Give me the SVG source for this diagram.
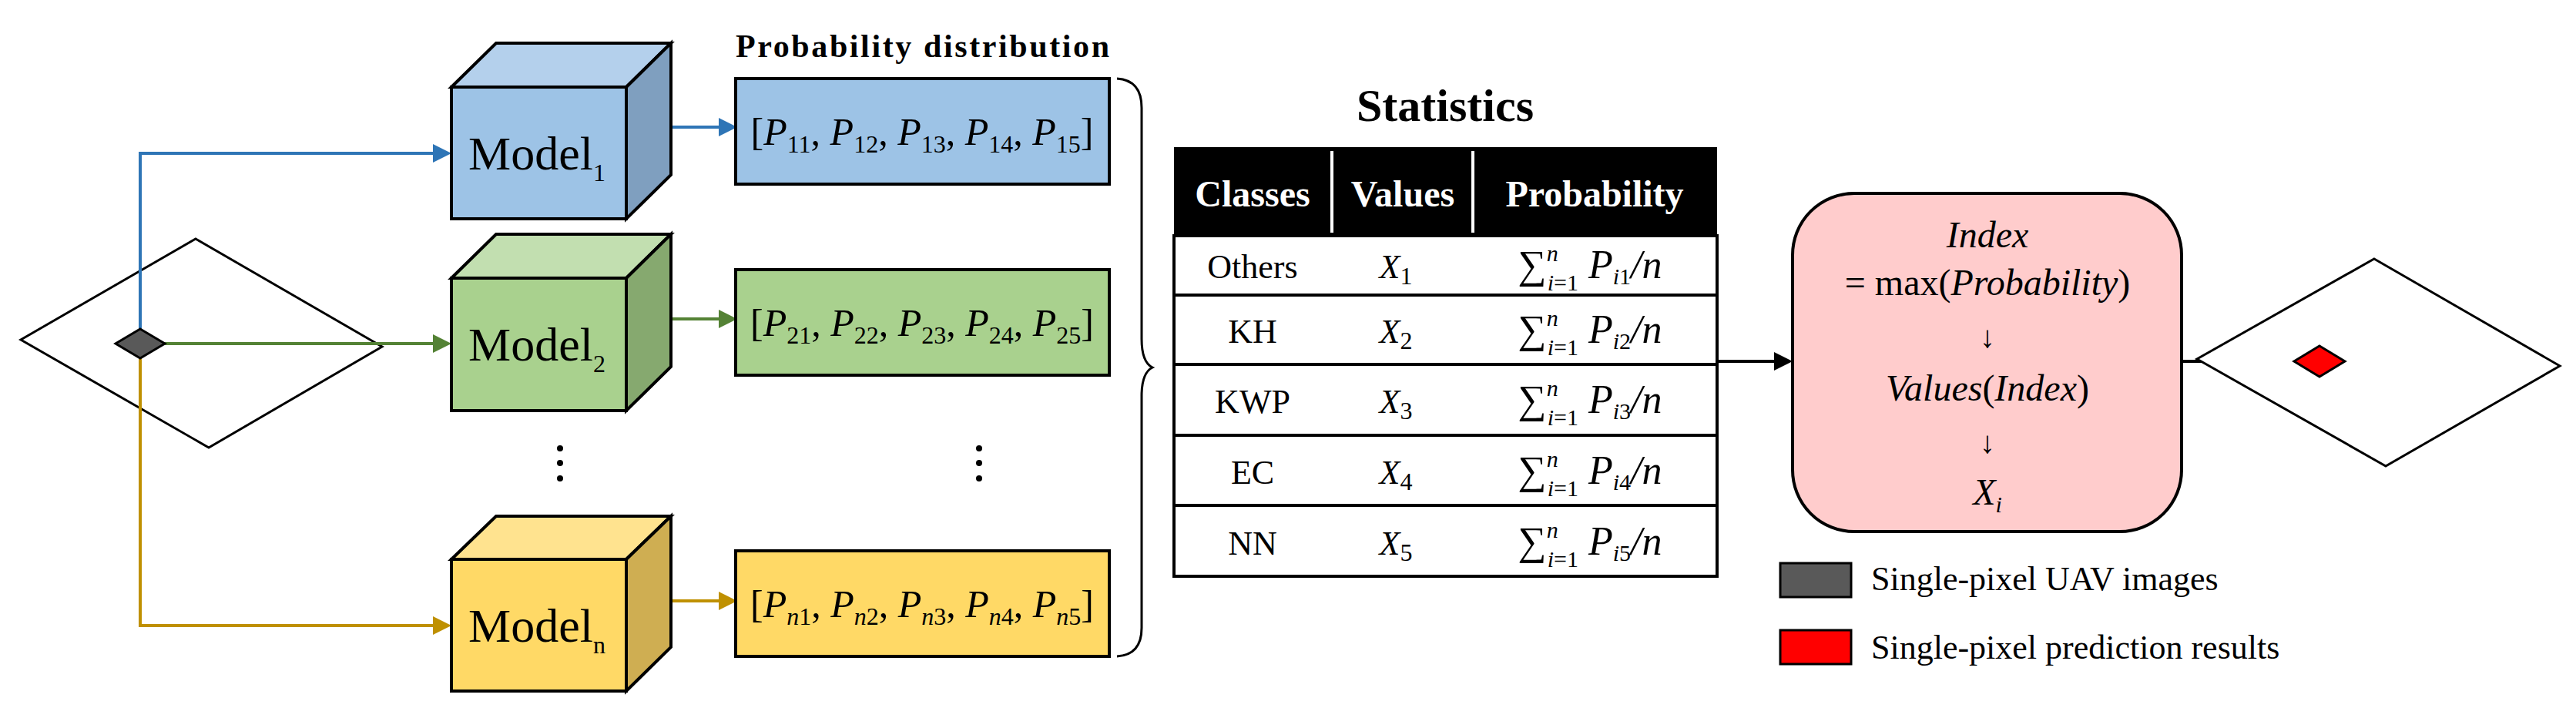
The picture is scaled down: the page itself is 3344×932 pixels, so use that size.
<svg xmlns="http://www.w3.org/2000/svg" width="3344" height="932" viewBox="0 0 3344 932">
<style>
text{font-family:"Liberation Serif","Times New Roman",serif;fill:#000}
.m{font-size:62px}
.p{font-size:50px}
.it{font-style:italic}
.sb{font-size:32px}
.t{font-size:44px}
.h{font-size:48px;font-weight:bold;fill:#fff}
.ln{fill:none;stroke-width:4}
.ed{stroke:#000;stroke-width:4}
</style>
<defs>
<marker id="ab" markerWidth="6" markerHeight="6" refX="5" refY="3" orient="auto" markerUnits="strokeWidth"><path d="M0,0L6,3L0,6z" fill="#2e75b6"/></marker>
<marker id="ag" markerWidth="6" markerHeight="6" refX="5" refY="3" orient="auto" markerUnits="strokeWidth"><path d="M0,0L6,3L0,6z" fill="#548235"/></marker>
<marker id="ay" markerWidth="6" markerHeight="6" refX="5" refY="3" orient="auto" markerUnits="strokeWidth"><path d="M0,0L6,3L0,6z" fill="#bf9000"/></marker>
<marker id="ak" markerWidth="6" markerHeight="6" refX="5" refY="3" orient="auto" markerUnits="strokeWidth"><path d="M0,0L6,3L0,6z" fill="#000"/></marker>
</defs>
<g id="input">
<polygon points="254,310 496,450 271,581 27,441" fill="#fff" stroke="#000" stroke-width="3"/>
</g>
<g id="connectors">
<path class="ln" stroke="#2e75b6" d="M182,440V199H582" marker-end="url(#ab)"/>
<path class="ln" stroke="#548235" d="M182,446H582" marker-end="url(#ag)"/>
<path class="ln" stroke="#bf9000" d="M182,452V812H582" marker-end="url(#ay)"/>
<path class="ln" stroke="#2e75b6" d="M842,165H953" marker-end="url(#ab)"/>
<path class="ln" stroke="#548235" d="M842,414H953" marker-end="url(#ag)"/>
<path class="ln" stroke="#bf9000" d="M842,780H953" marker-end="url(#ay)"/>
<path class="ln" stroke="#000" d="M2229,469H2323" marker-end="url(#ak)"/>
<path class="ln" stroke="#000" d="M2832,469H2986" marker-end="url(#ak)"/>
</g>
<g id="pixel">
<polygon points="182,427 214,446 182,465 150,446" fill="#595959" stroke="#000" stroke-width="3"/>
</g>
<g id="model1">
<polygon points="586,113 644,56 871,56 813,113" fill="#b4d0ec" class="ed"/>
<polygon points="813,113 871,56 871,227 813,284" fill="#7f9fbf" class="ed"/>
<rect x="586" y="113" width="227" height="171" fill="#9dc3e6" class="ed"/>
<text x="608" y="220" class="m">Model<tspan class="sb" dy="15">1</tspan></text>
</g>
<g id="model2">
<polygon points="586,361 644,304 871,304 813,361" fill="#c2dfb0" class="ed"/>
<polygon points="813,361 871,304 871,476 813,533" fill="#86a96f" class="ed"/>
<rect x="586" y="361" width="227" height="172" fill="#a9d18e" class="ed"/>
<text x="608" y="468" class="m">Model<tspan class="sb" dy="15">2</tspan></text>
</g>
<g id="modeln">
<polygon points="586,726 644,670 871,670 813,726" fill="#ffe38f" class="ed"/>
<polygon points="813,726 871,670 871,840 813,897" fill="#cfae52" class="ed"/>
<rect x="586" y="726" width="227" height="171" fill="#ffd966" class="ed"/>
<text x="608" y="833" class="m">Model<tspan class="sb" dy="15">n</tspan></text>
</g>
<text x="955" y="74" font-size="42" font-weight="bold" textLength="485">Probability distribution</text>
<g id="prob1">
<rect x="955" y="102" width="485" height="137" fill="#9dc3e6" class="ed"/>
<text x="1197" y="188" class="p" text-anchor="middle">[<tspan class="it">P</tspan><tspan class="sb" dy="10">11</tspan><tspan dy="-10">, </tspan><tspan class="it">P</tspan><tspan class="sb" dy="10">12</tspan><tspan dy="-10">, </tspan><tspan class="it">P</tspan><tspan class="sb" dy="10">13</tspan><tspan dy="-10">, </tspan><tspan class="it">P</tspan><tspan class="sb" dy="10">14</tspan><tspan dy="-10">, </tspan><tspan class="it">P</tspan><tspan class="sb" dy="10">15</tspan><tspan dy="-10">]</tspan></text>
</g>
<g id="prob2">
<rect x="955" y="350" width="485" height="137" fill="#a9d18e" class="ed"/>
<text x="1197" y="436" class="p" text-anchor="middle">[<tspan class="it">P</tspan><tspan class="sb" dy="10">21</tspan><tspan dy="-10">, </tspan><tspan class="it">P</tspan><tspan class="sb" dy="10">22</tspan><tspan dy="-10">, </tspan><tspan class="it">P</tspan><tspan class="sb" dy="10">23</tspan><tspan dy="-10">, </tspan><tspan class="it">P</tspan><tspan class="sb" dy="10">24</tspan><tspan dy="-10">, </tspan><tspan class="it">P</tspan><tspan class="sb" dy="10">25</tspan><tspan dy="-10">]</tspan></text>
</g>
<g id="probn">
<rect x="955" y="715" width="485" height="137" fill="#ffd966" class="ed"/>
<text x="1197" y="801" class="p" text-anchor="middle">[<tspan class="it">P</tspan><tspan class="sb" dy="10"><tspan class="it">n</tspan>1</tspan><tspan dy="-10">, </tspan><tspan class="it">P</tspan><tspan class="sb" dy="10"><tspan class="it">n</tspan>2</tspan><tspan dy="-10">, </tspan><tspan class="it">P</tspan><tspan class="sb" dy="10"><tspan class="it">n</tspan>3</tspan><tspan dy="-10">, </tspan><tspan class="it">P</tspan><tspan class="sb" dy="10"><tspan class="it">n</tspan>4</tspan><tspan dy="-10">, </tspan><tspan class="it">P</tspan><tspan class="sb" dy="10"><tspan class="it">n</tspan>5</tspan><tspan dy="-10">]</tspan></text>
</g>
<g fill="#000">
<circle cx="727" cy="582" r="4"/><circle cx="727" cy="601" r="4"/><circle cx="727" cy="621" r="4"/>
<circle cx="1271" cy="582" r="4"/><circle cx="1271" cy="601" r="4"/><circle cx="1271" cy="621" r="4"/>
</g>
<path d="M1450,102Q1482,104 1482,140V440Q1482,470 1496,477Q1482,484 1482,514V815Q1482,850 1450,852" fill="none" stroke="#000" stroke-width="3"/>
<g id="statistics">
<text x="1876" y="157" font-size="60" font-weight="bold" text-anchor="middle">Statistics</text>
<rect x="1524" y="191" width="705" height="115" fill="#000"/>
<line x1="1729" y1="196" x2="1729" y2="302" stroke="#fff" stroke-width="4"/>
<line x1="1912" y1="196" x2="1912" y2="302" stroke="#fff" stroke-width="4"/>
<text x="1626" y="268" class="h" text-anchor="middle">Classes</text>
<text x="1821" y="268" class="h" text-anchor="middle">Values</text>
<text x="2070" y="268" class="h" text-anchor="middle">Probability</text>
<g fill="#fff" stroke="#000" stroke-width="4">
<rect x="1524" y="306" width="705" height="77"/>
<rect x="1524" y="383" width="705" height="90"/>
<rect x="1524" y="473" width="705" height="92"/>
<rect x="1524" y="565" width="705" height="91"/>
<rect x="1524" y="656" width="705" height="92"/>
</g>
<g class="t" text-anchor="middle">
<text x="1626" y="361" class="t" text-anchor="middle">Others</text>
<text x="1626" y="445" class="t" text-anchor="middle">KH</text>
<text x="1626" y="536" class="t" text-anchor="middle">KWP</text>
<text x="1626" y="628" class="t" text-anchor="middle">EC</text>
<text x="1626" y="720" class="t" text-anchor="middle">NN</text>
</g>
<text x="1812" y="361" class="t it" text-anchor="middle">X<tspan class="sb" font-style="normal" dy="8">1</tspan></text>
<text x="1812" y="445" class="t it" text-anchor="middle">X<tspan class="sb" font-style="normal" dy="8">2</tspan></text>
<text x="1812" y="536" class="t it" text-anchor="middle">X<tspan class="sb" font-style="normal" dy="8">3</tspan></text>
<text x="1812" y="628" class="t it" text-anchor="middle">X<tspan class="sb" font-style="normal" dy="8">4</tspan></text>
<text x="1812" y="720" class="t it" text-anchor="middle">X<tspan class="sb" font-style="normal" dy="8">5</tspan></text>
<text x="2064" y="361" font-size="52" text-anchor="middle">∑<tspan font-size="30" class="it" dy="-22">n</tspan><tspan font-size="30" dx="-14" dy="38"><tspan class="it">i</tspan>=1</tspan><tspan dy="-16" class="it"> P</tspan><tspan font-size="30" dy="8"><tspan class="it">i</tspan>1</tspan><tspan class="it" dy="-8">/n</tspan></text>
<text x="2064" y="445" font-size="52" text-anchor="middle">∑<tspan font-size="30" class="it" dy="-22">n</tspan><tspan font-size="30" dx="-14" dy="38"><tspan class="it">i</tspan>=1</tspan><tspan dy="-16" class="it"> P</tspan><tspan font-size="30" dy="8"><tspan class="it">i</tspan>2</tspan><tspan class="it" dy="-8">/n</tspan></text>
<text x="2064" y="536" font-size="52" text-anchor="middle">∑<tspan font-size="30" class="it" dy="-22">n</tspan><tspan font-size="30" dx="-14" dy="38"><tspan class="it">i</tspan>=1</tspan><tspan dy="-16" class="it"> P</tspan><tspan font-size="30" dy="8"><tspan class="it">i</tspan>3</tspan><tspan class="it" dy="-8">/n</tspan></text>
<text x="2064" y="628" font-size="52" text-anchor="middle">∑<tspan font-size="30" class="it" dy="-22">n</tspan><tspan font-size="30" dx="-14" dy="38"><tspan class="it">i</tspan>=1</tspan><tspan dy="-16" class="it"> P</tspan><tspan font-size="30" dy="8"><tspan class="it">i</tspan>4</tspan><tspan class="it" dy="-8">/n</tspan></text>
<text x="2064" y="720" font-size="52" text-anchor="middle">∑<tspan font-size="30" class="it" dy="-22">n</tspan><tspan font-size="30" dx="-14" dy="38"><tspan class="it">i</tspan>=1</tspan><tspan dy="-16" class="it"> P</tspan><tspan font-size="30" dy="8"><tspan class="it">i</tspan>5</tspan><tspan class="it" dy="-8">/n</tspan></text>
</g>
<g id="index">
<rect x="2327" y="251" width="505" height="439" rx="80" fill="#ffcccc" stroke="#000" stroke-width="4"/>
<g font-size="48" text-anchor="middle">
<text x="2580" y="321" font-size="48" text-anchor="middle" class="it">Index</text>
<text x="2580" y="383" font-size="48" text-anchor="middle">= max(<tspan class="it">Probability</tspan>)</text>
<text x="2580" y="451" font-size="40" text-anchor="middle">↓</text>
<text x="2580" y="520" font-size="48" text-anchor="middle"><tspan class="it">Values</tspan>(<tspan class="it">Index</tspan>)</text>
<text x="2580" y="588" font-size="40" text-anchor="middle">↓</text>
<text x="2580" y="655" font-size="48" text-anchor="middle" class="it">X<tspan font-size="30" dy="10">i</tspan></text>
</g>
</g>
<g id="output">
<polygon points="3082,336 3323,475 3097,605 2852,466" fill="#fff" stroke="#000" stroke-width="3"/>
<polygon points="3011,449 3044,469 3011,489 2978,469" fill="#ff0000" stroke="#000" stroke-width="3"/>
</g>
<g id="legend">
<rect x="2311" y="731" width="92" height="44" fill="#595959" stroke="#000" stroke-width="3"/>
<text x="2429" y="766" font-size="44">Single-pixel UAV images</text>
<rect x="2311" y="818" width="92" height="44" fill="#ff0000" stroke="#000" stroke-width="3"/>
<text x="2429" y="855" font-size="44">Single-pixel prediction results</text>
</g>
</svg>
